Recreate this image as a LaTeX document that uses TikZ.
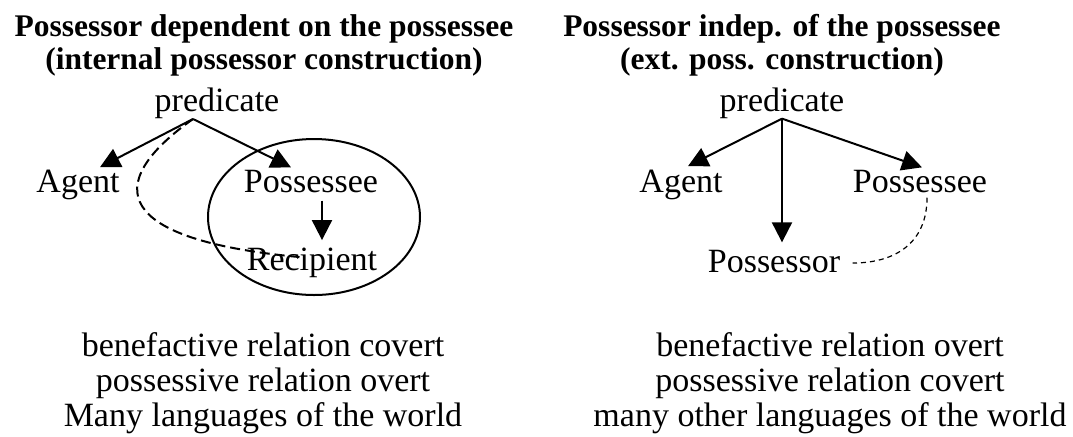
\documentclass[tikz,border=0pt]{standalone}
\usepackage{fontspec}
\setmainfont{Liberation Serif}
\usepackage{tikz}
\usetikzlibrary{arrows.meta, positioning, calc}
\tikzset{
    word/.style={inner sep=0, anchor=base, font=\fontsize{17}{17.5}\selectfont},
    heading/.style={inner sep=0, anchor=north, align=center, font=\fontsize{15.75}{16.5}\selectfont\bfseries},
    note/.style={inner sep=0, anchor=north, align=center, font=\fontsize{17}{17.5}\selectfont},
    myarrow/.style={-{Triangle[length=10pt, width=10pt]}, line width=1pt},
    linkdash/.style={line width=1pt, dash pattern=on 5pt off 2.5pt},
    thindash/.style={line width=0.6pt, dash pattern=on 2.5pt off 2pt},
}

\begin{document}
\begin{tikzpicture}[x=0.5pt, y=-0.5pt]
\useasboundingbox (0,0) rectangle (1073,436);

% ============================================================
% INTERNAL POSSESSOR
% ============================================================
\node[heading] (title1) at (264, 14) {Possessor dependent on the possessee\\(internal possessor construction)};

\node[word] (pred1) at (217, 111) {predicate};
\coordinate (top1) at (193, 119);
\node[word] (agent1) at (78, 192) {Agent};
\node[word] (pee1) at (311, 192) {Possessee};
\node[word] (rec1) at (312, 270) {Recipient};

\coordinate (grp1) at (314, 217);
\draw[line width=1pt] (grp1) ellipse [x radius=53pt, y radius=39pt];

\draw[myarrow] (top1) -- ($(agent1.north)+(22,-2)$);
\draw[myarrow] (top1) -- ($(pee1.north)+(-20,-2)$);
\draw[myarrow] ($(pee1.south)+(11,8)$) -- ($(rec1.north)+(10,-7)$);

\draw[linkdash] (top1) .. controls +(-93,66) and +(-185,-17) .. ($(rec1.north)+(-12,10)$);

\node[note] (note1) at (263, 332) {benefactive relation covert\\possessive relation overt\\Many languages of the world};

% ============================================================
% EXTERNAL POSSESSOR
% ============================================================
\node[heading] (title2) at (782, 14) {Possessor indep. of the possessee\\(ext. poss. construction)};

\node[word] (pred2) at (782, 111) {predicate};
\node[word] (agent2) at (681, 192) {Agent};
\node[word] (pee2) at (920, 192) {Possessee};
\node[word] (poss2) at (774, 272) {Possessor};

\draw[myarrow] (pred2.south) -- ($(agent2.north)+(7,-3)$);
\draw[myarrow] (pred2.south) -- ($(pee2.north)+(2,-2)$);
\draw[myarrow] (pred2.south) -- ($(poss2.north)+(8,-7)$);

\draw[thindash] ($(pee2.south)+(7,5)$) .. controls +(0,45) and +(43,0) .. ($(poss2.east)+(12,2)$);

\node[note] (note2) at (830, 332) {benefactive relation overt\\possessive relation covert\\many other languages of the world};

\end{tikzpicture}
\end{document}
